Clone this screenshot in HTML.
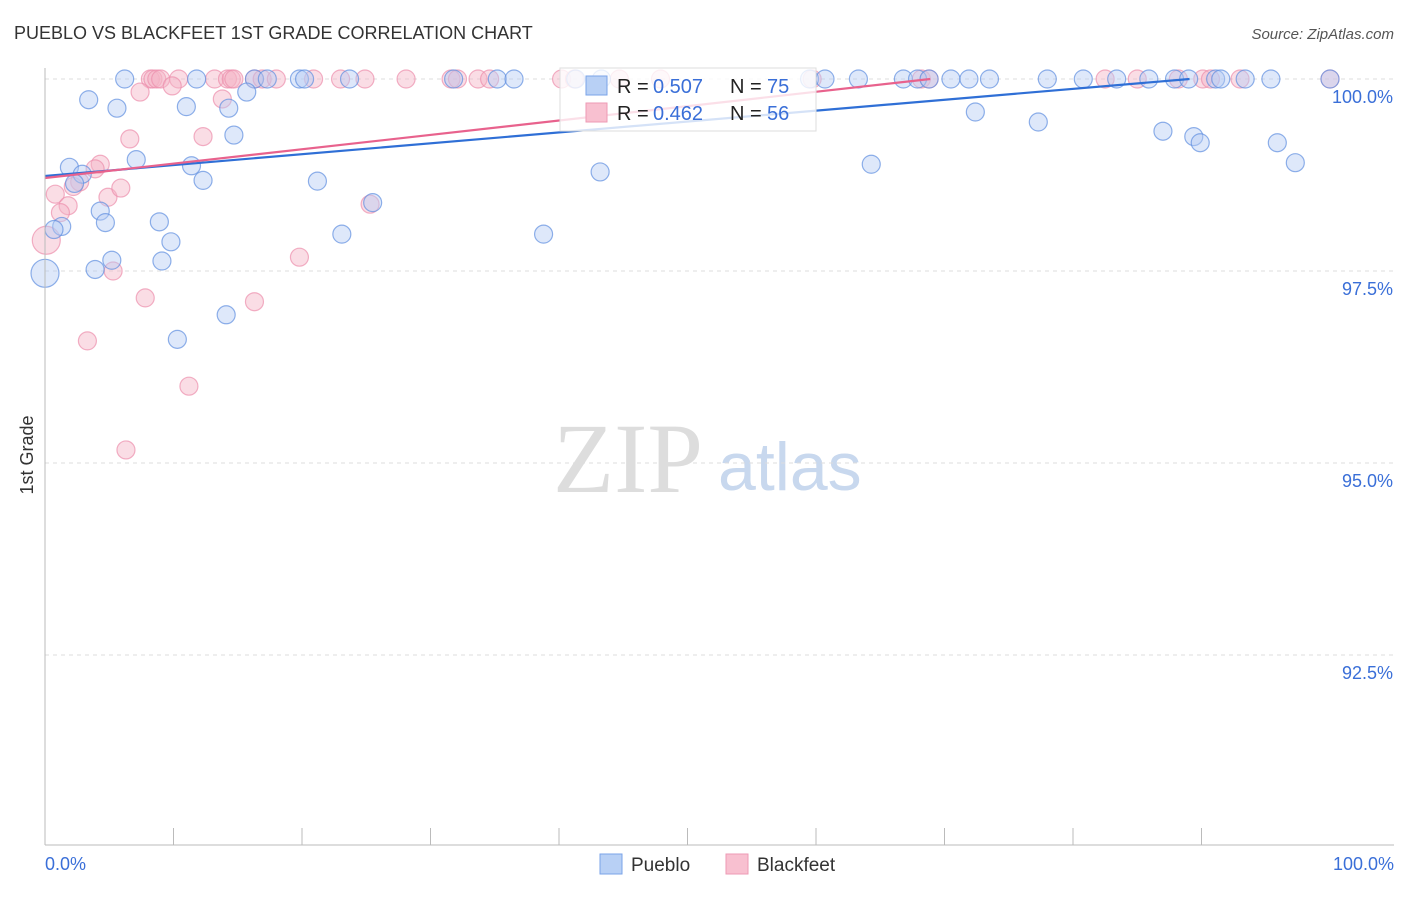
<!DOCTYPE html>
<html><head><meta charset="utf-8"><style>
body{margin:0;background:#fff;}
</style></head><body>
<svg id="chart" width="1406" height="892" font-family="Liberation Sans, sans-serif">
<text x="14" y="39" font-size="18" fill="#333">PUEBLO VS BLACKFEET 1ST GRADE CORRELATION CHART</text>
<text x="1394" y="39" font-size="15" fill="#555" font-style="italic" text-anchor="end">Source: ZipAtlas.com</text>
<text x="33" y="455" font-size="18" fill="#333" transform="rotate(-90 33 455)" text-anchor="middle">1st Grade</text>
<text x="553" y="492" font-size="100" fill="#ddd" style="font-family:'Liberation Serif',serif">ZIP</text>
<text x="718" y="490" font-size="68" fill="#c8d8ee">atlas</text>
<g id="grid"></g><g id="pts"></g><g id="lines"></g>
<line x1="45" y1="68" x2="45" y2="845" stroke="#bbb"/>
<line x1="45" y1="845" x2="1394" y2="845" stroke="#bbb"/>
<text x="45" y="870" font-size="18" fill="#3a6fd8">0.0%</text>
<text x="1394" y="870" font-size="18" fill="#3a6fd8" text-anchor="end">100.0%</text>
<g>
<rect x="560" y="68" width="256" height="63" fill="#fff" fill-opacity="0.8" stroke="#ddd"/>
<rect x="586" y="76" width="21" height="19" fill="#b8d0f5" stroke="#7aa3e8"/>
<rect x="586" y="103" width="21" height="19" fill="#f8c0d0" stroke="#ee9ab4"/>
<text x="617" y="93" font-size="20" fill="#222">R =</text><text x="653" y="93" font-size="20" fill="#3a6fd8">0.507</text>
<text x="730" y="93" font-size="20" fill="#222">N =</text><text x="767" y="93" font-size="20" fill="#3a6fd8">75</text>
<text x="617" y="120" font-size="20" fill="#222">R =</text><text x="653" y="120" font-size="20" fill="#3a6fd8">0.462</text>
<text x="730" y="120" font-size="20" fill="#222">N =</text><text x="767" y="120" font-size="20" fill="#3a6fd8">56</text>
</g>
<g><rect x="600" y="854" width="22" height="20" fill="#b8d0f5" stroke="#7aa3e8"/><text x="631" y="871" font-size="19" fill="#333">Pueblo</text></g>
<g><rect x="726" y="854" width="22" height="20" fill="#f8c0d0" stroke="#ee9ab4"/><text x="757" y="871" font-size="19" fill="#333">Blackfeet</text></g>
</svg>
<script>
const yTicks=[100,97.5,95,92.5];
const yTickLabels=["100.0%","97.5%","95.0%","92.5%"];
const puebloX=[6.2,11.8,16.3,17.3,19.8,20.2,23.7,31.8,35.2,36.5,41.3,43.3,59.5,60.7,63.3,66.8,67.9,68.8,70.5,71.9,73.5,78,80.8,83.4,85.9,87.9,89,91.1,91.5,93.4,95.4,100,
3.4,5.6,11,14.3,15.7,14.7,7.1,1.9,2.9,11.4,12.3,2.3,4.3,4.7,1.3,0.7,8.9,9.8,9.1,5.2,3.9,0,14.1,10.3,21.2,23.1,25.5,38.8,43.2,64.3,72.4,77.3,87,89.4,89.9,95.9,97.3];
const puebloY=[100,100,100,100,100,100,100,100,100,100,100,100,100,100,100,100,100,100,100,100,100,100,100,100,100,100,100,100,100,100,100,100,
99.73,99.62,99.64,99.62,99.83,99.27,98.95,98.85,98.76,98.87,98.68,98.64,98.28,98.13,98.08,98.04,98.14,97.88,97.63,97.64,97.52,97.47,96.93,96.61,98.67,97.98,98.39,97.98,98.79,98.89,99.57,99.44,99.32,99.25,99.17,99.17,98.91];
const blackX=[8.2,8.4,8.7,9,10.4,13.2,14.2,14.5,14.7,16.3,16.9,18,20.9,23,24.9,28.1,31.6,32.1,33.7,34.6,40.2,41.2,44.7,47.9,59.7,68.2,68.8,82.5,85,88.2,90.1,90.7,93,100,
7.4,9.9,13.8,6.6,12.3,4.3,3.9,2.7,2.2,4.9,5.9,0.8,1.8,1.2,0.1,5.3,7.8,16.3,19.8,25.3,3.3,11.2,6.3];
const blackY=[100,100,100,100,100,100,100,100,100,100,100,100,100,100,100,100,100,100,100,100,100,100,100,100,100,100,100,100,100,100,100,100,100,100,
99.83,99.91,99.74,99.22,99.25,98.89,98.83,98.66,98.6,98.46,98.58,98.5,98.35,98.26,97.9,97.5,97.15,97.1,97.68,98.37,96.59,96.0,95.17];
const trendIntercept=[98.737,98.711];
const trendSlope=[0.01418,0.01871];
const xs=v=>45+v*12.85;
const ys=v=>79+(100-v)*76.8;
const NS="http://www.w3.org/2000/svg";
function mk(t,a,p){const e=document.createElementNS(NS,t);for(const k in a)e.setAttribute(k,a[k]);p.appendChild(e);return e;}
const grid=document.getElementById('grid');
yTicks.forEach((t,i)=>{
 const l=mk('line',{x1:45,x2:1394,y1:ys(t),y2:ys(t),stroke:'#ddd','stroke-dasharray':'4,4'},grid);
 
 
 const tx=mk('text',{x:1393,y:ys(t)+24,'font-size':18,fill:'#3a6fd8','text-anchor':'end'},grid);
 tx.textContent=yTickLabels[i];
 
 
});
for(let i=0;i<9;i++){const xx=45+(i+1)*128.5;const l=mk('line',{x1:xx,x2:xx,y1:828,y2:845,stroke:'#bbb'},grid);
 
 }
const pts=document.getElementById('pts');
function plot(X,Y,fill,stroke,name){X.forEach((x,i)=>{
 const big=(x<=0.2);
 const c=mk('circle',{cx:xs(x),cy:ys(Y[i]),r:big?14:9,fill:fill,'fill-opacity':0.45,stroke:stroke,'stroke-opacity':0.7,'stroke-width':1.2},pts);
 
 
});}
plot(blackX,blackY,'#f5b3c6','#ec8fac','blackfeet-point');
plot(puebloX,puebloY,'#b5cdf3','#5f8fe0','pueblo-point');
const lines=document.getElementById('lines');
const cols=['#2f6fd6','#e8628d'];const names=['pueblo-trendline','blackfeet-trendline'];
[0,1].forEach(k=>{
 const xEnd=Math.min(100,(100-trendIntercept[k])/trendSlope[k]);
 const l=mk('line',{x1:xs(0),y1:ys(trendIntercept[k]),x2:xs(xEnd),y2:ys(trendIntercept[k]+trendSlope[k]*xEnd),stroke:cols[k],'stroke-width':2.2},lines);
 
 
});
</script>
</body></html>
